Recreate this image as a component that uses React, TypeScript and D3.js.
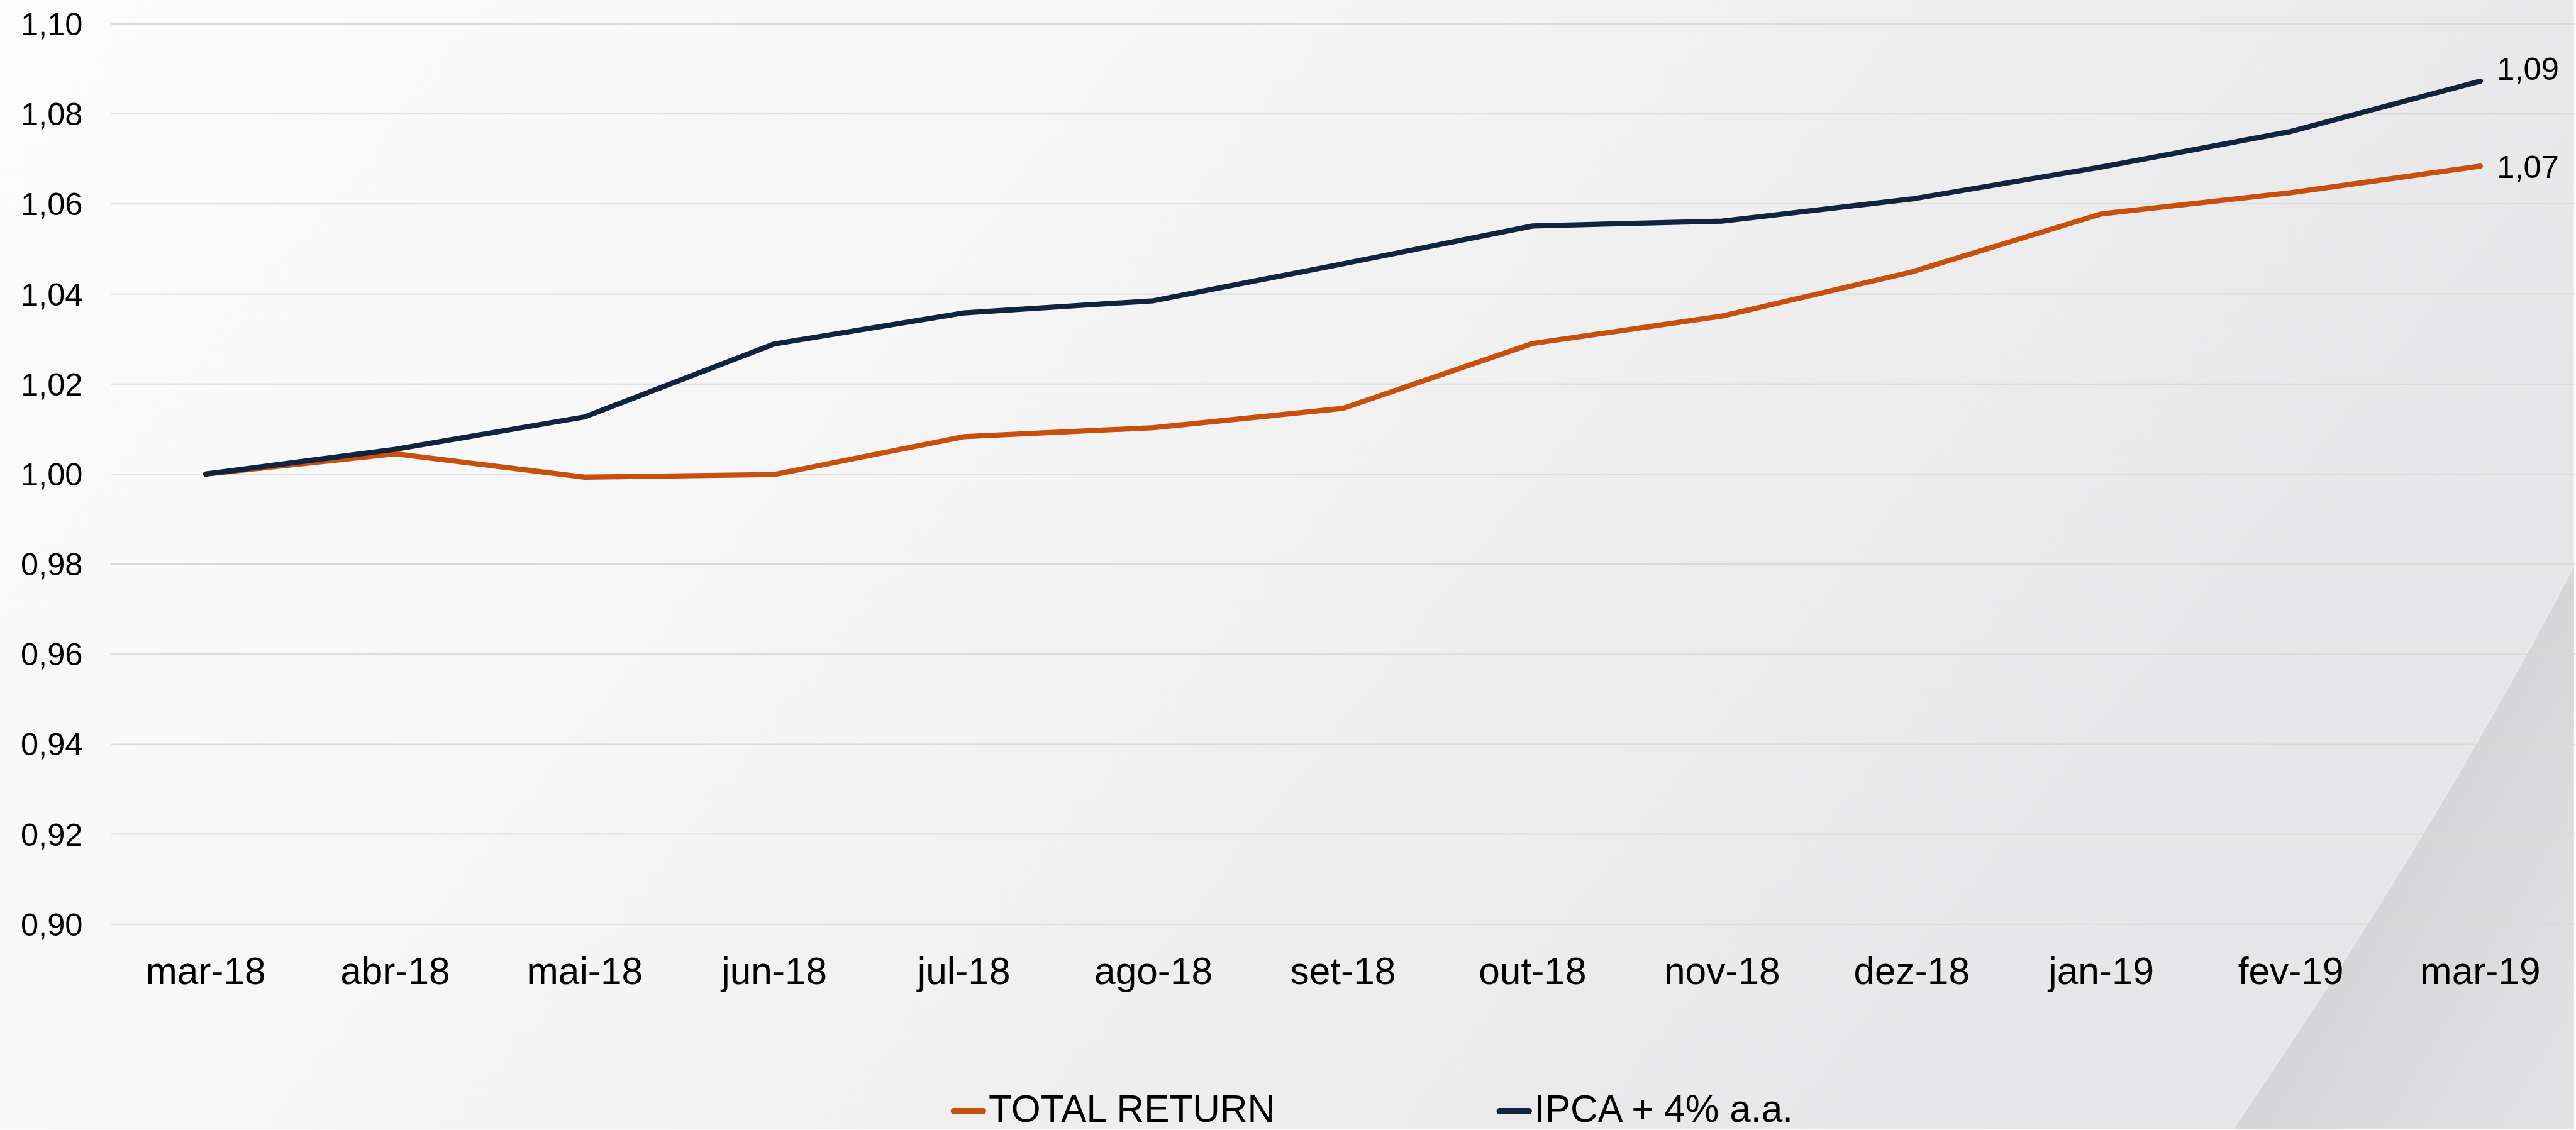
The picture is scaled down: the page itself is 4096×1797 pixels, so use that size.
import React from "react";
import * as d3 from "d3";

const categories = ["mar-18","abr-18","mai-18","jun-18","jul-18","ago-18","set-18","out-18","nov-18","dez-18","jan-19","fev-19","mar-19"];
const totalReturn = [1.0, 1.0045, 0.9993, 0.9999, 1.0083, 1.0103, 1.0146, 1.029, 1.0351, 1.0449, 1.0578, 1.0625, 1.0684];
const ipca = [1.0, 1.0055, 1.0127, 1.0289, 1.0358, 1.0385, 1.0467, 1.0551, 1.0562, 1.0611, 1.0682, 1.0761, 1.0873];
const yTicks = [0.9, 0.92, 0.94, 0.96, 0.98, 1.0, 1.02, 1.04, 1.06, 1.08, 1.1];
const seriesNames = ["TOTAL RETURN", "IPCA + 4% a.a."];
const seriesColors = ["#C9500C", "#10233F"];

const locale = d3.formatLocale({ decimal: ",", thousands: ".", grouping: [3], currency: ["R$", ""] });
const fmt = locale.format(".2f");

export default function App() {
  const W = 4202, H = 1844, S = 0.974;
  const font = "'Liberation Sans', Arial, Helvetica, sans-serif";
  const x = d3.scalePoint<string>().domain(categories).range([181, 4204]).padding(0.5);
  const y = d3.scaleLinear().domain([0.9, 1.1]).range([1509, 39]);
  const line = d3.line<number>().x((_, i) => x(categories[i]) as number).y((d) => y(d));
  const series = [totalReturn, ipca];
  const lastX = x(categories[categories.length - 1]) as number;
  const labelOffsets = [19, -2];
  const legendX = [1552, 2443];
  const wedgeEdge = "M4202,923 Q3976,1356 3645,1844";

  return (
    <svg width={4096} height={1797} style={{ position: "absolute", left: 0, top: 0, display: "block" }}>
      <defs>
        <linearGradient id="bg" x1="0" y1="0" x2="1" y2="0.35">
          <stop offset="0" stopColor="#fcfcfc" />
          <stop offset="0.4" stopColor="#f6f6f7" />
          <stop offset="1" stopColor="#e6e6e8" />
        </linearGradient>
        <linearGradient id="wedge" gradientUnits="userSpaceOnUse" x1="3880" y1="1509" x2="4202" y2="1700">
          <stop offset="0" stopColor="#d6d6d8" />
          <stop offset="1" stopColor="#e2e2e4" />
        </linearGradient>
      </defs>
      <g transform={`scale(${S})`}>
        <rect x={0} y={0} width={W} height={H} fill="url(#bg)" />
        <path d={`${wedgeEdge} L4202,1844 Z`} fill="url(#wedge)" />
        <path d={wedgeEdge} fill="none" stroke="#ededef" strokeWidth={3} opacity={0.7} />
        {yTicks.map((t) => (
          <g key={t}>
            <line x1={181} x2={4204} y1={y(t)} y2={y(t)} stroke="#d9d9d9" strokeWidth={2} />
            <text x={135} y={y(t) + 18.5} textAnchor="end" fontFamily={font} fontSize={52} fill="#000">{fmt(t)}</text>
          </g>
        ))}
        {categories.map((c) => (
          <text key={c} x={x(c)} y={1607} textAnchor="middle" fontFamily={font} fontSize={62} fill="#000">{c}</text>
        ))}
        {series.map((s, i) => (
          <path key={i} d={line(s) as string} fill="none" stroke={seriesColors[i]} strokeWidth={8.5} strokeLinejoin="round" strokeLinecap="round" />
        ))}
        {series.map((s, i) => (
          <text key={"l" + i} x={lastX + 27} y={y(s[s.length - 1]) + labelOffsets[i]} fontFamily={font} fontSize={52} fill="#000">{fmt(s[s.length - 1])}</text>
        ))}
        {seriesNames.map((n, i) => (
          <g key={n}>
            <line x1={legendX[i] + 5} x2={legendX[i] + 53} y1={1814} y2={1814} stroke={seriesColors[i]} strokeWidth={10} strokeLinecap="round" />
            <text x={legendX[i] + 62} y={1832} fontFamily={font} fontSize={62} fill="#000">{n}</text>
          </g>
        ))}
      </g>
    </svg>
  );
}
